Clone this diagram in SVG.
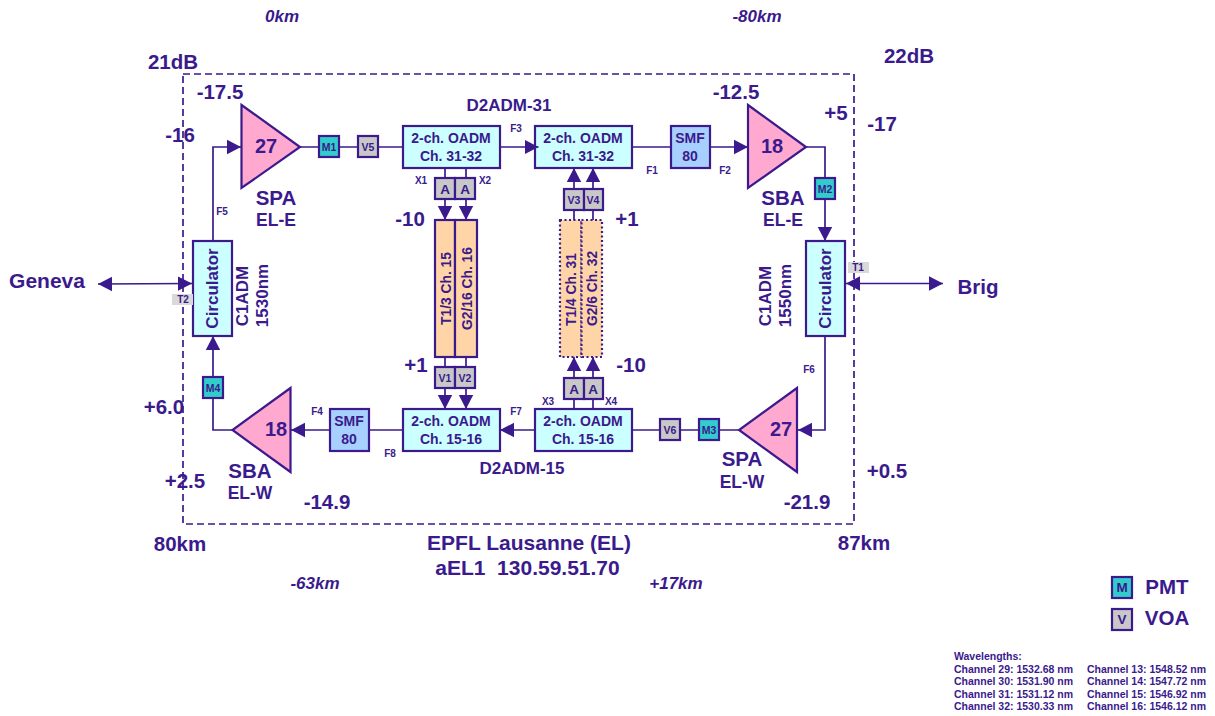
<svg xmlns="http://www.w3.org/2000/svg" width="1215" height="716" viewBox="0 0 1215 716">
<defs>
<marker id="ah" markerUnits="userSpaceOnUse" markerWidth="15" markerHeight="16" refX="14" refY="8" orient="auto"><path d="M0,0.800 L14,8 L0,15.200 Z" fill="#3a1a8c"/></marker>
<marker id="as" markerUnits="userSpaceOnUse" markerWidth="15" markerHeight="16" refX="0" refY="8" orient="auto"><path d="M14,0.800 L0,8 L14,15.200 Z" fill="#3a1a8c"/></marker>
</defs>
<style>
text{font-family:"Liberation Sans",Arial,sans-serif;font-weight:bold;fill:#3a1a8c;text-anchor:middle}
.l{stroke:#3a1a8c;stroke-width:1.700;fill:none}
.amp{fill:#ffa8d0;stroke:#3a1a8c;stroke-width:2.200}
.oadm{fill:#ccffff;stroke:#3a1a8c;stroke-width:2.200}
.smf{fill:#a8d0ff;stroke:#3a1a8c;stroke-width:2.200}
.pmt{fill:#33cccc;stroke:#3a1a8c;stroke-width:2.200}
.gr{fill:#c8c8c8;stroke:#3a1a8c;stroke-width:2.200}
.fil{fill:#ffd5a8;stroke:#3a1a8c;stroke-width:2.200}
.dot{fill:#ffd5a8;stroke:#3a1a8c;stroke-width:2.200;stroke-dasharray:2 2.500}
.n{font-size:20.500px}.big{font-size:20.500px}.name{font-size:17.500px}.mid{font-size:17px}.o{font-size:14px}.f{font-size:13.800px}.s{font-size:10.500px}.x{font-size:10px}.a{font-size:13.500px}
.i{font-style:italic;font-size:17px}
.m{text-anchor:start;font-size:10.500px}
</style>

<g id="border"><rect x="183" y="74" width="671" height="450" fill="none" stroke="#3a1a8c" stroke-width="1.700" stroke-dasharray="7 4"/></g>

<g id="connectors">
<path class="l" d="M213,241 V147 H241" marker-end="url(#ah)"/>
<path class="l" d="M300,147 H403"/>
<path class="l" d="M632,147 H671"/>
<path class="l" d="M710,147 H748" marker-end="url(#ah)"/>
<path class="l" d="M806,147 H825 V241" marker-end="url(#ah)"/>
<path class="l" d="M825,336 V430 H798" marker-end="url(#ah)"/>
<path class="l" d="M738,430 H633"/>
<path class="l" d="M535,430 H500" marker-end="url(#ah)"/>
<path class="l" d="M403,430 H369"/>
<path class="l" d="M330,430 H291" marker-end="url(#ah)"/>
<path class="l" d="M232,430 H213 V336" marker-end="url(#ah)"/>
<path class="l" d="M445,168 V220" marker-end="url(#ah)"/>
<path class="l" d="M466,168 V220" marker-end="url(#ah)"/>
<path class="l" d="M574,220 V168" marker-end="url(#ah)"/>
<path class="l" d="M593,220 V168" marker-end="url(#ah)"/>
<path class="l" d="M445,357 V409" marker-end="url(#ah)"/>
<path class="l" d="M466,357 V409" marker-end="url(#ah)"/>
<path class="l" d="M574,409 V357" marker-end="url(#ah)"/>
<path class="l" d="M593,409 V357" marker-end="url(#ah)"/>
<path class="l" d="M98,284 L192,283.500" marker-start="url(#as)" marker-end="url(#ah)"/>
<path class="l" d="M846,283.500 H943" marker-start="url(#as)" marker-end="url(#ah)"/>
</g>

<g id="spa-e"><path class="amp" d="M241.500,105 L300,147 L241.500,188 Z"/><text style="font-size:20px" x="266" y="153">27</text></g>
<g id="sba-e"><path class="amp" d="M748,105 L806,147 L748,188 Z"/><text style="font-size:20px" x="772" y="153">18</text></g>
<g id="spa-w"><path class="amp" d="M797,388 L739,430 L797,472 Z"/><text style="font-size:20px" x="781" y="436">27</text></g>
<g id="sba-w"><path class="amp" d="M290.500,388 L232.500,430 L290.500,472 Z"/><text style="font-size:20px" x="276" y="436">18</text></g>

<g id="oadm-31a"><rect class="oadm" x="403" y="126" width="97" height="42"/><text class="o" x="451" y="143">2-ch. OADM</text><text class="o" x="451" y="161">Ch. 31-32</text></g>
<g id="oadm-31b"><rect class="oadm" x="535" y="126" width="97" height="42"/><text class="o" x="583" y="143">2-ch. OADM</text><text class="o" x="583" y="161">Ch. 31-32</text></g>
<g id="oadm-15a"><rect class="oadm" x="403" y="409" width="97" height="42"/><text class="o" x="451" y="426">2-ch. OADM</text><text class="o" x="451" y="444">Ch. 15-16</text></g>
<g id="oadm-15b"><rect class="oadm" x="535" y="409" width="97" height="42"/><text class="o" x="583" y="426">2-ch. OADM</text><text class="o" x="583" y="444">Ch. 15-16</text></g>

<g id="connector-f3"><path class="l" d="M500,147 H538.500" marker-end="url(#ah)"/></g>

<g id="smf-e"><rect class="smf" x="671" y="126" width="39" height="42"/><text class="o" x="690" y="143">SMF</text><text class="o" x="690" y="161">80</text></g>
<g id="smf-w"><rect class="smf" x="330" y="409" width="39" height="42"/><text class="o" x="349" y="426">SMF</text><text class="o" x="349" y="444">80</text></g>

<g id="circ-w"><rect class="oadm" x="193" y="241" width="39" height="95"/><text class="mid" transform="translate(218,288.500) rotate(-90)">Circulator</text></g>
<g id="circ-e"><rect class="oadm" x="806" y="241" width="39" height="95"/><text class="mid" transform="translate(831,288.500) rotate(-90)">Circulator</text></g>

<g id="m1"><rect class="pmt" x="319" y="136" width="20" height="21"/><text class="s" x="329" y="151">M1</text></g>
<g id="v5"><rect class="gr" x="358" y="136" width="20" height="21"/><text class="s" x="368" y="151">V5</text></g>
<g id="m2"><rect class="pmt" x="815" y="178" width="20" height="21"/><text class="s" x="825" y="193">M2</text></g>
<g id="m3"><rect class="pmt" x="699" y="419" width="20" height="21"/><text class="s" x="709" y="434">M3</text></g>
<g id="v6"><rect class="gr" x="660" y="419" width="20" height="21"/><text class="s" x="670" y="434">V6</text></g>
<g id="m4"><rect class="pmt" x="203" y="377" width="20" height="21"/><text class="s" x="213" y="392">M4</text></g>

<g id="a1"><rect class="gr" x="435" y="178" width="20" height="21"/><text class="a" x="445" y="194">A</text></g>
<g id="a2"><rect class="gr" x="455" y="178" width="20" height="21"/><text class="a" x="465" y="194">A</text></g>
<g id="v3"><rect class="gr" x="564" y="189" width="20" height="21"/><text class="s" x="574" y="204">V3</text></g>
<g id="v4"><rect class="gr" x="584" y="189" width="19" height="21"/><text class="s" x="593" y="204">V4</text></g>
<g id="v1"><rect class="gr" x="435" y="367" width="20" height="21"/><text class="s" x="445" y="382">V1</text></g>
<g id="v2"><rect class="gr" x="455" y="367" width="20" height="21"/><text class="s" x="465" y="382">V2</text></g>
<g id="a3"><rect class="gr" x="564" y="378" width="20" height="21"/><text class="a" x="574" y="394">A</text></g>
<g id="a4"><rect class="gr" x="584" y="378" width="19" height="21"/><text class="a" x="593" y="394">A</text></g>

<g id="tp1"><rect class="fil" x="435" y="220" width="20" height="137"/><text class="f" transform="translate(450.500,288.500) rotate(-90)">T1/3 Ch. 15</text></g>
<g id="tp2"><rect class="fil" x="455" y="220" width="22" height="137"/><text class="f" transform="translate(471.500,288.500) rotate(-90)">G2/16 Ch. 16</text></g>
<g id="tp3"><rect class="dot" x="560" y="220" width="21.500" height="137"/><text class="f" transform="translate(576,289.500) rotate(-90)">T1/4 Ch. 31</text></g>
<g id="tp4"><rect class="dot" x="581.500" y="220" width="20.500" height="137"/><text class="f" transform="translate(596.500,288.500) rotate(-90)">G2/6 Ch. 32</text></g>

<g id="t1"><rect x="848" y="262" width="21" height="11" fill="#d9d9d9"/><text class="x" x="858" y="271">T1</text></g>
<g id="t2"><rect x="172" y="294" width="21" height="11" fill="#d9d9d9"/><text class="x" x="183" y="303">T2</text></g>

<g id="labels">
<text class="i" x="282" y="22">0km</text>
<text class="i" x="757" y="22">-80km</text>
<text class="i" x="315" y="589">-63km</text>
<text class="i" x="676" y="589">+17km</text>
<text class="n" x="173" y="69">21dB</text>
<text class="n" x="909" y="63">22dB</text>
<text class="n" x="220" y="99">-17.5</text>
<text class="n" x="736" y="99">-12.5</text>
<text class="n" x="180" y="142">-16</text>
<text class="n" x="836" y="120">+5</text>
<text class="n" x="882" y="131">-17</text>
<text class="n" x="410" y="226">-10</text>
<text class="n" x="627" y="226">+1</text>
<text class="n" x="416" y="372">+1</text>
<text class="n" x="631" y="372">-10</text>
<text class="n" x="164" y="414">+6.0</text>
<text class="n" x="185" y="488">+2.5</text>
<text class="n" x="327" y="509">-14.9</text>
<text class="n" x="807" y="509">-21.9</text>
<text class="n" x="887" y="478">+0.5</text>
<text class="n" x="180" y="551">80km</text>
<text class="n" x="864" y="550">87km</text>
<text style="font-size:21px" x="529" y="550">EPFL Lausanne (EL)</text>
<text style="font-size:21px" x="527.500" y="575">aEL1&#160;&#160;130.59.51.70</text>
<text class="mid" x="509" y="111">D2ADM-31</text>
<text class="mid" x="522" y="474">D2ADM-15</text>
<text class="big" x="276" y="205">SPA</text>
<text class="name" x="276" y="226">EL-E</text>
<text class="big" x="783" y="205">SBA</text>
<text class="name" x="783" y="226">EL-E</text>
<text class="big" x="742" y="466">SPA</text>
<text class="name" x="742" y="488">EL-W</text>
<text class="big" x="250" y="478">SBA</text>
<text class="name" x="250" y="499">EL-W</text>
<text style="font-size:21px" x="47" y="288">Geneva</text>
<text class="n" x="978" y="294">Brig</text>
<text class="mid" transform="translate(248,296) rotate(-90)">C1ADM</text>
<text class="mid" transform="translate(268,295.500) rotate(-90)">1530nm</text>
<text class="mid" transform="translate(771,296) rotate(-90)">C1ADM</text>
<text class="mid" transform="translate(791,295.500) rotate(-90)">1550nm</text>
<text class="x" x="222" y="215">F5</text>
<text class="x" x="516" y="132">F3</text>
<text class="x" x="652" y="174">F1</text>
<text class="x" x="725" y="174">F2</text>
<text class="x" x="809" y="373">F6</text>
<text class="x" x="317" y="415">F4</text>
<text class="x" x="390" y="457">F8</text>
<text class="x" x="516" y="415">F7</text>
<text class="x" x="421" y="184">X1</text>
<text class="x" x="485" y="184">X2</text>
<text class="x" x="548" y="405">X3</text>
<text class="x" x="611" y="405">X4</text>
</g>

<g id="legend">
<g id="legend-pmt"><rect class="pmt" x="1112" y="577" width="20" height="21"/><text class="a" x="1122" y="592">M</text><text class="n" x="1167" y="594">PMT</text></g>
<g id="legend-voa"><rect class="gr" x="1112" y="609" width="20" height="21"/><text class="a" x="1122" y="624">V</text><text class="n" x="1167" y="625">VOA</text></g>
<text class="m" x="954" y="660">Wavelengths:</text>
<text class="m" x="954" y="673">Channel 29: 1532.68 nm</text>
<text class="m" x="954" y="685">Channel 30: 1531.90 nm</text>
<text class="m" x="954" y="698">Channel 31: 1531.12 nm</text>
<text class="m" x="954" y="710">Channel 32: 1530.33 nm</text>
<text class="m" x="1087" y="673">Channel 13: 1548.52 nm</text>
<text class="m" x="1087" y="685">Channel 14: 1547.72 nm</text>
<text class="m" x="1087" y="698">Channel 15: 1546.92 nm</text>
<text class="m" x="1087" y="710">Channel 16: 1546.12 nm</text>
</g>
</svg>
